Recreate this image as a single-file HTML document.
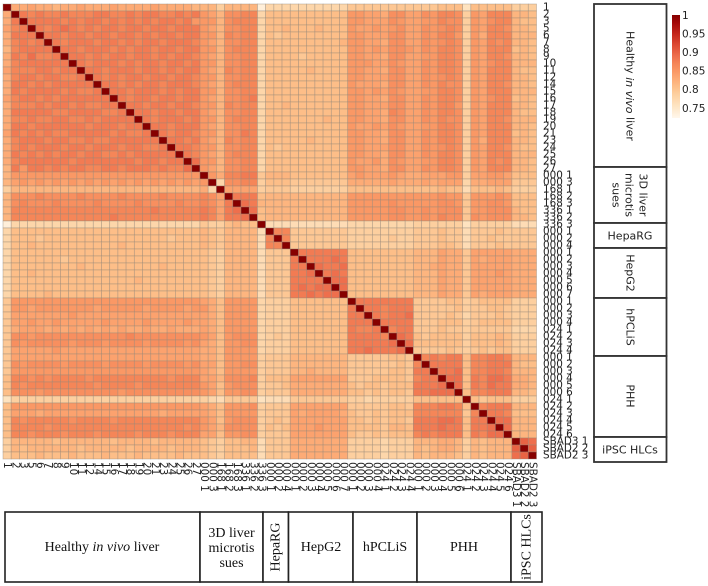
<!DOCTYPE html>
<html lang="en">
<head>
<meta charset="utf-8">
<title>Sample correlation heatmap</title>
<style>
html,body{margin:0;padding:0;background:#fff;width:708px;height:586px;overflow:hidden}
svg{display:block}
#cells{filter:blur(0.35px)}
.tick{font-family:"DejaVu Sans",sans-serif;font-size:10.4px;fill:#222}
.side{font-family:"DejaVu Sans",sans-serif;font-size:11px;fill:#222}
.bottom{font-family:"Liberation Serif",serif;font-size:14px;fill:#111}
.leg{font-family:"DejaVu Sans",sans-serif;font-size:10.5px;fill:#222}
</style>
</head>
<body>
<svg id="chart" xmlns="http://www.w3.org/2000/svg" width="708" height="586" viewBox="0 0 708 586">
<defs><linearGradient id="cbar" x1="0" y1="1" x2="0" y2="0"></linearGradient></defs>
<g id="cells"></g>
<g id="ylabels"></g>
<g id="xlabels"></g>
<g>
<rect id="cbarRect" x="672" y="15" width="8" height="103" fill="url(#cbar)"/>
<g id="cbarTicks"></g>
</g>
<g fill="#fff" stroke="#333" stroke-width="1.8">
<rect x="594" y="4" width="72.5" height="163"/>
<rect x="594" y="167" width="72.5" height="56"/>
<rect x="594" y="223" width="72.5" height="25"/>
<rect x="594" y="248" width="72.5" height="50"/>
<rect x="594" y="298" width="72.5" height="58"/>
<rect x="594" y="356" width="72.5" height="81"/>
<rect x="594" y="437" width="72.5" height="25"/>
</g>
<g text-anchor="middle">
<text class="side" transform="rotate(90 630 86)" x="630" y="86" dominant-baseline="central">Healthy <tspan font-style="italic">in vivo</tspan> liver</text>
<text class="side" transform="rotate(90 643 195)" x="643" y="195" dominant-baseline="central">3D liver</text>
<text class="side" transform="rotate(90 629 195)" x="629" y="195" dominant-baseline="central">microtis</text>
<text class="side" transform="rotate(90 616 195)" x="616" y="195" dominant-baseline="central">sues</text>
<text class="side" x="630" y="236" dominant-baseline="central">HepaRG</text>
<text class="side" transform="rotate(90 630 273)" x="630" y="273" dominant-baseline="central">HepG2</text>
<text class="side" transform="rotate(90 630 327)" x="630" y="327" dominant-baseline="central">hPCLiS</text>
<text class="side" transform="rotate(90 630 396)" x="630" y="396" dominant-baseline="central">PHH</text>
<text class="side" x="630" y="450" dominant-baseline="central">iPSC HLCs</text>
</g>
<g fill="#fff" stroke="#222" stroke-width="1.6">
<rect x="5" y="512" width="195" height="70"/>
<rect x="200" y="512" width="63" height="70"/>
<rect x="263" y="512" width="25.5" height="70"/>
<rect x="288.5" y="512" width="64.5" height="70"/>
<rect x="353" y="512" width="64" height="70"/>
<rect x="417" y="512" width="94" height="70"/>
<rect x="511" y="512" width="31" height="70"/>
</g>
<g text-anchor="middle">
<text class="bottom" x="102" y="551">Healthy <tspan font-style="italic">in vivo</tspan> liver</text>
<text class="bottom" x="231.5" y="537">3D liver</text>
<text class="bottom" x="231.5" y="552">microtis</text>
<text class="bottom" x="231.5" y="567">sues</text>
<text class="bottom" transform="rotate(-90 276 547)" x="276" y="547" dominant-baseline="central">HepaRG</text>
<text class="bottom" x="321" y="551">HepG2</text>
<text class="bottom" x="385" y="551">hPCLiS</text>
<text class="bottom" x="464" y="551">PHH</text>
<text class="bottom" transform="rotate(-90 527 547)" x="527" y="547" dominant-baseline="central">iPSC HLCs</text>
</g>
</svg>
<script>
const sampleLabels = ["1","2","3","5","6","7","8","9","10","11","12","14","15","16","17","18","19","20","21","23","24","25","26","27",
"000 1","000 3","168 1","168 2","168 3","336 1","336 2","336 3",
"000 1","000 2","000 4",
"000 1","000 2","000 3","000 4","000 5","000 6","000 7",
"000 1","000 2","000 3","000 4","024 1","024 2","024 3","024 4",
"000 1","000 2","000 3","000 4","000 5","000 6","024 1","024 2","024 3","024 4","024 5","024 6",
"SBAD3 1","SBAD2 2","SBAD2 3"];
const legendTicks = [1,0.95,0.9,0.85,0.8,0.75];
const scaleValues = [0.726,0.76,0.79,0.81,0.83,0.85,0.87,0.89,0.92,0.95,0.98,1];
const scaleColors = ["#fff7ec","#fee3c0","#fdcf9f","#fdbe88","#fdab76","#fa9865","#f58658","#ee6f4d","#dd4a33","#c4261b","#a30808","#860000"];
/* correlation x100. Healthy x healthy: row a lists columns a+1 .. 23 */
const healthyBlock = [
[83,83,84,83,83,82,83,83,84,83,83,83,84,83,83,83,83,84,83,83,83,83,82],
[88,87,88,87,87,88,87,87,87,88,88,87,87,88,87,88,88,87,87,88,87,88],
[88,88,88,88,87,88,87,88,88,87,88,87,88,87,88,87,88,88,87,88],
[88,87,88,89,88,87,88,87,88,88,87,88,88,87,88,88,87,88,88,88],
[88,88,87,88,88,87,88,88,87,88,88,87,88,87,88,88,87,88,88],
[88,87,88,88,88,87,88,88,87,88,87,88,88,87,88,88,88,87],
[88,88,87,88,88,88,87,88,87,88,88,87,88,88,87,88,88],
[88,88,87,88,87,88,88,87,88,88,87,88,87,88,88,87],
[88,87,88,88,88,87,88,87,88,88,87,88,88,87,88],
[88,88,87,88,88,88,87,88,88,87,88,87,88,88],
[88,87,88,87,88,88,87,88,88,87,88,88,87],
[88,88,87,88,87,88,88,87,88,88,88,87],
[88,88,87,88,88,88,87,88,87,88,88],
[88,87,88,88,87,88,88,87,88,88],
[88,88,87,88,88,87,88,88,87],
[88,88,87,88,88,87,88,88],
[88,87,88,88,88,87,88],
[88,88,87,88,88,88],
[88,87,88,88,87],
[88,88,87,88],
[88,88,87],
[88,87],
[89],
[]
];
/* Healthy rows x the 41 non-healthy columns */
const healthyCross = [
[82,82,79,82,82,82,82,74, 78,78,78, 78,78,78,78,78,78,78, 80,80,80,80,80,80,80,80, 80,80,80,81,81,81, 76, 81,81,81,81,81, 79,79,79],
[85,84,82,86,86,87,87,78, 81,81,81, 81,81,81,81,81,81,81, 85,85,84,84,83,86,86,84, 84,86,85,87,87,86, 79, 85,84,87,87,87, 82,82,81],
[85,85,82,86,87,87,87,78, 81,81,81, 81,81,81,81,81,81,81, 85,85,84,84,84,86,85,84, 84,85,85,87,86,86, 79, 85,84,86,87,87, 82,81,81],
[85,84,82,86,86,87,87,78, 81,81,82, 81,81,81,82,81,81,81, 85,84,84,85,84,85,86,84, 84,86,85,86,87,86, 79, 85,84,87,87,86, 82,82,81],
[85,85,82,87,86,87,87,78, 81,80,81, 81,81,81,81,81,81,81, 85,85,84,84,84,86,86,84, 84,86,85,87,87,85, 79, 85,83,87,87,87, 82,82,82],
[85,84,82,86,86,87,87,78, 81,81,81, 81,81,81,81,81,81,82, 85,85,84,84,83,86,86,84, 84,86,85,86,87,86, 79, 85,84,87,86,87, 82,82,81],
[85,85,82,86,87,87,87,78, 81,81,81, 81,81,81,81,81,81,81, 85,85,84,85,84,86,86,85, 84,86,85,87,87,86, 79, 85,84,87,87,87, 81,82,81],
[85,84,82,86,86,87,87,78, 81,81,81, 81,80,81,81,81,81,81, 85,85,84,84,83,86,86,84, 84,85,85,87,87,86, 79, 85,84,87,87,86, 82,82,81],
[85,85,82,86,86,87,87,78, 81,81,81, 81,81,81,81,81,81,81, 85,85,85,84,84,86,85,84, 84,86,85,87,87,86, 79, 85,84,86,87,87, 82,82,82],
[85,84,82,87,86,87,87,78, 81,81,81, 81,81,82,81,81,81,81, 85,85,84,84,83,86,86,84, 84,86,85,87,87,86, 79, 85,84,87,87,87, 82,81,81],
[85,85,82,86,86,87,87,78, 81,81,81, 81,81,81,81,81,81,81, 85,85,84,84,84,86,86,84, 84,86,85,86,87,86, 79, 85,84,87,87,87, 82,82,81],
[85,84,82,86,87,87,87,78, 81,81,81, 81,81,81,81,81,81,81, 85,84,84,84,83,86,86,84, 84,86,85,87,86,86, 79, 85,84,87,87,86, 82,82,81],
[85,85,82,86,86,87,87,78, 81,81,81, 81,81,81,81,81,81,81, 85,85,84,85,84,86,85,84, 84,85,85,87,87,86, 79, 85,84,87,87,87, 82,82,82],
[85,84,82,86,86,87,88,78, 81,81,81, 81,81,81,81,81,81,81, 85,85,84,84,83,86,86,84, 84,86,85,87,87,86, 79, 85,84,86,87,87, 81,82,81],
[85,85,82,87,86,87,87,78, 81,81,82, 81,81,81,81,81,81,81, 85,85,84,84,84,86,86,84, 84,86,85,87,87,85, 79, 85,84,87,87,87, 82,82,81],
[85,84,82,86,86,87,87,78, 81,81,81, 81,81,81,81,81,81,81, 85,85,84,84,83,87,86,84, 84,86,85,87,87,86, 79, 85,84,87,87,87, 82,81,81],
[85,85,82,86,87,87,87,78, 81,81,81, 81,81,81,81,82,81,81, 85,85,84,84,83,86,86,84, 84,86,85,87,86,86, 79, 85,84,87,87,86, 82,82,82],
[85,84,82,86,86,87,87,78, 81,81,81, 81,81,81,81,81,81,81, 85,84,84,85,84,86,85,84, 84,85,85,87,87,86, 79, 85,84,87,87,87, 82,82,81],
[85,85,82,86,86,88,87,78, 81,81,81, 81,81,81,81,81,81,81, 85,85,84,84,83,86,86,84, 84,86,85,87,87,86, 79, 85,84,87,87,87, 81,82,81],
[85,84,82,87,86,87,87,78, 81,81,81, 81,81,82,81,81,81,81, 85,85,84,84,83,86,86,84, 84,86,85,87,87,86, 79, 85,83,87,87,87, 82,82,81],
[85,85,82,86,86,87,87,78, 81,80,81, 81,81,81,81,81,81,81, 85,85,84,84,84,86,86,84, 84,86,85,86,87,86, 79, 85,84,87,87,86, 82,81,81],
[85,84,82,86,87,87,87,78, 81,81,81, 81,81,81,81,81,81,81, 85,85,84,84,83,86,86,84, 84,86,85,87,87,86, 79, 85,84,87,87,87, 82,82,82],
[85,85,82,86,86,87,87,78, 81,81,81, 81,81,81,81,81,81,81, 85,84,84,85,83,86,85,84, 84,85,85,87,87,86, 79, 85,84,87,86,87, 82,82,81],
[85,84,82,86,86,87,87,78, 81,81,81, 81,81,81,81,81,81,81, 85,85,84,84,83,86,86,84, 84,86,85,87,87,86, 79, 85,84,87,87,87, 82,82,81]
];
/* Non-healthy samples: upper triangle, each row starts at its diagonal */
const otherRows = [
[100, 85,83,87,87,88,88,80, 82,82,82, 81,81,81,81,81,81,81, 84,85,84,84,84,85,84,83, 83,84,84,84,85,85, 79, 84,84,85,85,84, 81,81,81],
[100, 78,86,86,87,87,79, 81,81,81, 80,80,80,80,80,80,80, 83,83,83,83,83,84,83,83, 83,84,83,84,84,84, 78, 83,83,84,84,84, 80,80,80],
[100, 84,84,84,84,79, 80,80,80, 79,79,79,79,79,79,79, 81,81,81,81,81,81,81,81, 81,81,81,82,81,81, 77, 81,81,81,82,81, 79,79,79],
[100, 88,88,88,81, 82,82,82, 82,82,82,82,82,82,82, 85,85,85,85,85,85,85,85, 85,85,85,86,85,85, 80, 85,85,85,86,85, 81,81,81],
[100, 89,88,82, 82,82,82, 82,82,82,82,82,82,82, 85,85,85,85,85,86,85,85, 85,85,85,86,86,85, 80, 85,85,86,86,85, 81,81,81],
[100, 89,81, 82,82,82, 82,82,82,82,82,82,82, 85,85,85,85,85,86,86,85, 85,86,85,86,86,86, 80, 85,85,86,86,86, 82,81,81],
[100, 81, 82,82,82, 82,82,82,82,82,82,82, 85,85,85,85,85,86,86,85, 85,86,85,87,86,86, 80, 86,85,86,86,86, 82,82,81],
[100, 77,77,77, 77,77,77,77,77,77,77, 78,78,78,78,78,78,78,78, 79,79,79,79,79,79, 76, 79,79,79,79,79, 77,77,77],
[100, 87,87, 80,80,80,80,80,80,80, 79,79,79,79,79,79,79,79, 80,80,80,81,80,80, 77, 80,80,80,81,80, 80,80,80],
[100, 87, 80,80,80,80,80,80,80, 79,79,79,79,79,80,79,79, 80,80,80,81,80,80, 77, 80,80,81,80,80, 80,80,80],
[100, 80,80,80,80,80,80,80, 79,79,79,79,79,79,79,79, 80,80,80,81,81,80, 77, 80,80,80,81,80, 80,80,80],
[100, 88,88,88,88,88,88, 81,81,81,81,81,81,81,81, 82,82,82,84,83,83, 80, 84,84,84,84,84, 83,83,83],
[100, 88,88,88,89,88, 81,81,81,81,81,81,81,81, 82,82,82,84,83,83, 80, 84,83,84,84,84, 83,83,83],
[100, 89,88,88,89, 81,81,81,81,81,81,81,81, 82,82,83,84,83,83, 80, 84,84,84,84,84, 83,83,83],
[100, 88,89,88, 81,81,81,81,81,81,81,81, 82,82,82,84,83,83, 80, 84,84,84,85,84, 83,83,83],
[100, 89,89, 81,81,81,81,81,81,81,81, 82,82,82,84,83,83, 80, 84,84,84,84,84, 83,83,83],
[100, 89, 81,81,81,81,81,81,81,81, 82,82,82,84,83,83, 80, 84,84,84,84,84, 83,83,83],
[100, 81,81,81,81,81,81,81,81, 82,82,82,84,83,83, 80, 84,83,84,84,84, 83,83,83],
[100, 88,88,88,88,88,88,88, 80,80,80,80,81,81, 79, 80,81,81,81,81, 79,79,79],
[100, 88,88,87,88,88,88, 80,80,80,80,80,81, 79, 80,80,81,81,80, 79,79,79],
[100, 88,87,88,88,89, 80,80,80,80,81,80, 78, 80,80,80,81,80, 79,79,79],
[100, 88,88,88,88, 80,80,80,81,81,81, 79, 80,81,81,81,81, 79,79,79],
[100, 87,88,88, 80,80,80,81,80,80, 79, 80,80,80,80,80, 78,78,78],
[100, 89,88, 81,80,81,81,81,81, 79, 81,81,81,82,81, 79,79,79],
[100, 89, 81,81,81,81,81,81, 79, 81,81,81,82,81, 79,79,79],
[100, 80,80,80,80,81,80, 79, 80,81,80,81,81, 79,79,79],
[100, 87,88,87,88,88, 81, 87,87,88,88,87, 82,82,82],
[100, 88,88,88,88, 81, 87,87,88,88,88, 82,81,81],
[100, 88,88,89, 81, 87,87,88,88,87, 82,82,82],
[100, 89,89, 81, 88,87,89,89,88, 83,83,82],
[100, 89, 81, 88,87,89,88,88, 83,83,82],
[100, 81, 87,87,88,88,88, 82,82,81],
[100, 81,80,81,81,81, 79,79,79],
[100, 87,88,88,88, 82,82,82],
[100, 88,88,87, 81,81,81],
[100, 89,89, 82,82,82],
[100, 89, 82,82,82],
[100, 82,82,82],
[100, 90,89],
[100, 90],
[100]
];

const SVG_NS = "http://www.w3.org/2000/svg";
const healthyCount = healthyBlock.length;
const plotLeft = 3, plotTop = 4, plotRight = 536.5, plotBottom = 459;
const n = sampleLabels.length;
const xScale = i => plotLeft + i * (plotRight - plotLeft) / n;
const yScale = i => plotTop + i * (plotBottom - plotTop) / n;
const legendY = v => 15.8 + (1 - v) * 372;

function valueAt(i, j) {
  const a = Math.min(i, j), b = Math.max(i, j);
  let v;
  if (a === b) v = 100;
  else if (b < healthyCount) v = healthyBlock[a][b - a - 1];
  else if (a < healthyCount) v = healthyCross[a][b - healthyCount];
  else v = otherRows[a - healthyCount][b - a];
  return (v === undefined ? 85 : v) / 100;
}
function hex(c) { return [1, 3, 5].map(k => parseInt(c.substr(k, 2), 16)); }
function colorFor(v) {
  if (v <= scaleValues[0]) return scaleColors[0];
  for (let k = 1; k < scaleValues.length; k++) {
    if (v <= scaleValues[k]) {
      const t = (v - scaleValues[k - 1]) / (scaleValues[k] - scaleValues[k - 1]);
      const p = hex(scaleColors[k - 1]), q = hex(scaleColors[k]);
      return "rgb(" + p.map((x, m) => Math.round(x + (q[m] - x) * t)).join(",") + ")";
    }
  }
  return scaleColors[scaleColors.length - 1];
}

const cellsG = document.getElementById("cells");
const cw = (plotRight - plotLeft) / n, ch = (plotBottom - plotTop) / n;
for (let r = 0; r < n; r++) {
  for (let c = 0; c < n; c++) {
    const el = document.createElementNS(SVG_NS, "rect");
    el.setAttribute("x", xScale(c));
    el.setAttribute("y", yScale(r));
    el.setAttribute("width", cw);
    el.setAttribute("height", ch);
    el.setAttribute("fill", colorFor(valueAt(r, c)));
    el.setAttribute("stroke", "rgba(150,135,120,.55)");
    el.setAttribute("stroke-width", "0.7");
    
    
    cellsG.appendChild(el);
  }
}

const yG = document.getElementById("ylabels"), xG = document.getElementById("xlabels");
sampleLabels.forEach((label, i) => {
  const t = document.createElementNS(SVG_NS, "text");
  t.setAttribute("class", "tick");
  t.setAttribute("x", 543);
  t.setAttribute("y", yScale(i) + ch / 2);
  t.setAttribute("dominant-baseline", "central");
  t.textContent = label;
  
  
  yG.appendChild(t);
  const u = document.createElementNS(SVG_NS, "text");
  const cx = xScale(i) + cw / 2;
  u.setAttribute("class", "tick");
  u.setAttribute("x", cx);
  u.setAttribute("y", 462);
  u.setAttribute("dominant-baseline", "central");
  u.setAttribute("transform", "rotate(90 " + cx + " 462)");
  u.textContent = label;
  
  
  xG.appendChild(u);
});

const grad = document.getElementById("cbar");
scaleValues.forEach((v, k) => {
  const s = document.createElementNS(SVG_NS, "stop");
  s.setAttribute("offset", (v - scaleValues[0]) / (1 - scaleValues[0]));
  s.setAttribute("stop-color", scaleColors[k]);
  grad.appendChild(s);
});
const cbarTicks = document.getElementById("cbarTicks");
legendTicks.forEach(v => {
  const t = document.createElementNS(SVG_NS, "text");
  t.setAttribute("class", "leg");
  t.setAttribute("x", 682);
  t.setAttribute("y", legendY(v));
  t.setAttribute("dominant-baseline", "central");
  t.textContent = String(v);
  
  
  cbarTicks.appendChild(t);
});
</script>
</body>
</html>
